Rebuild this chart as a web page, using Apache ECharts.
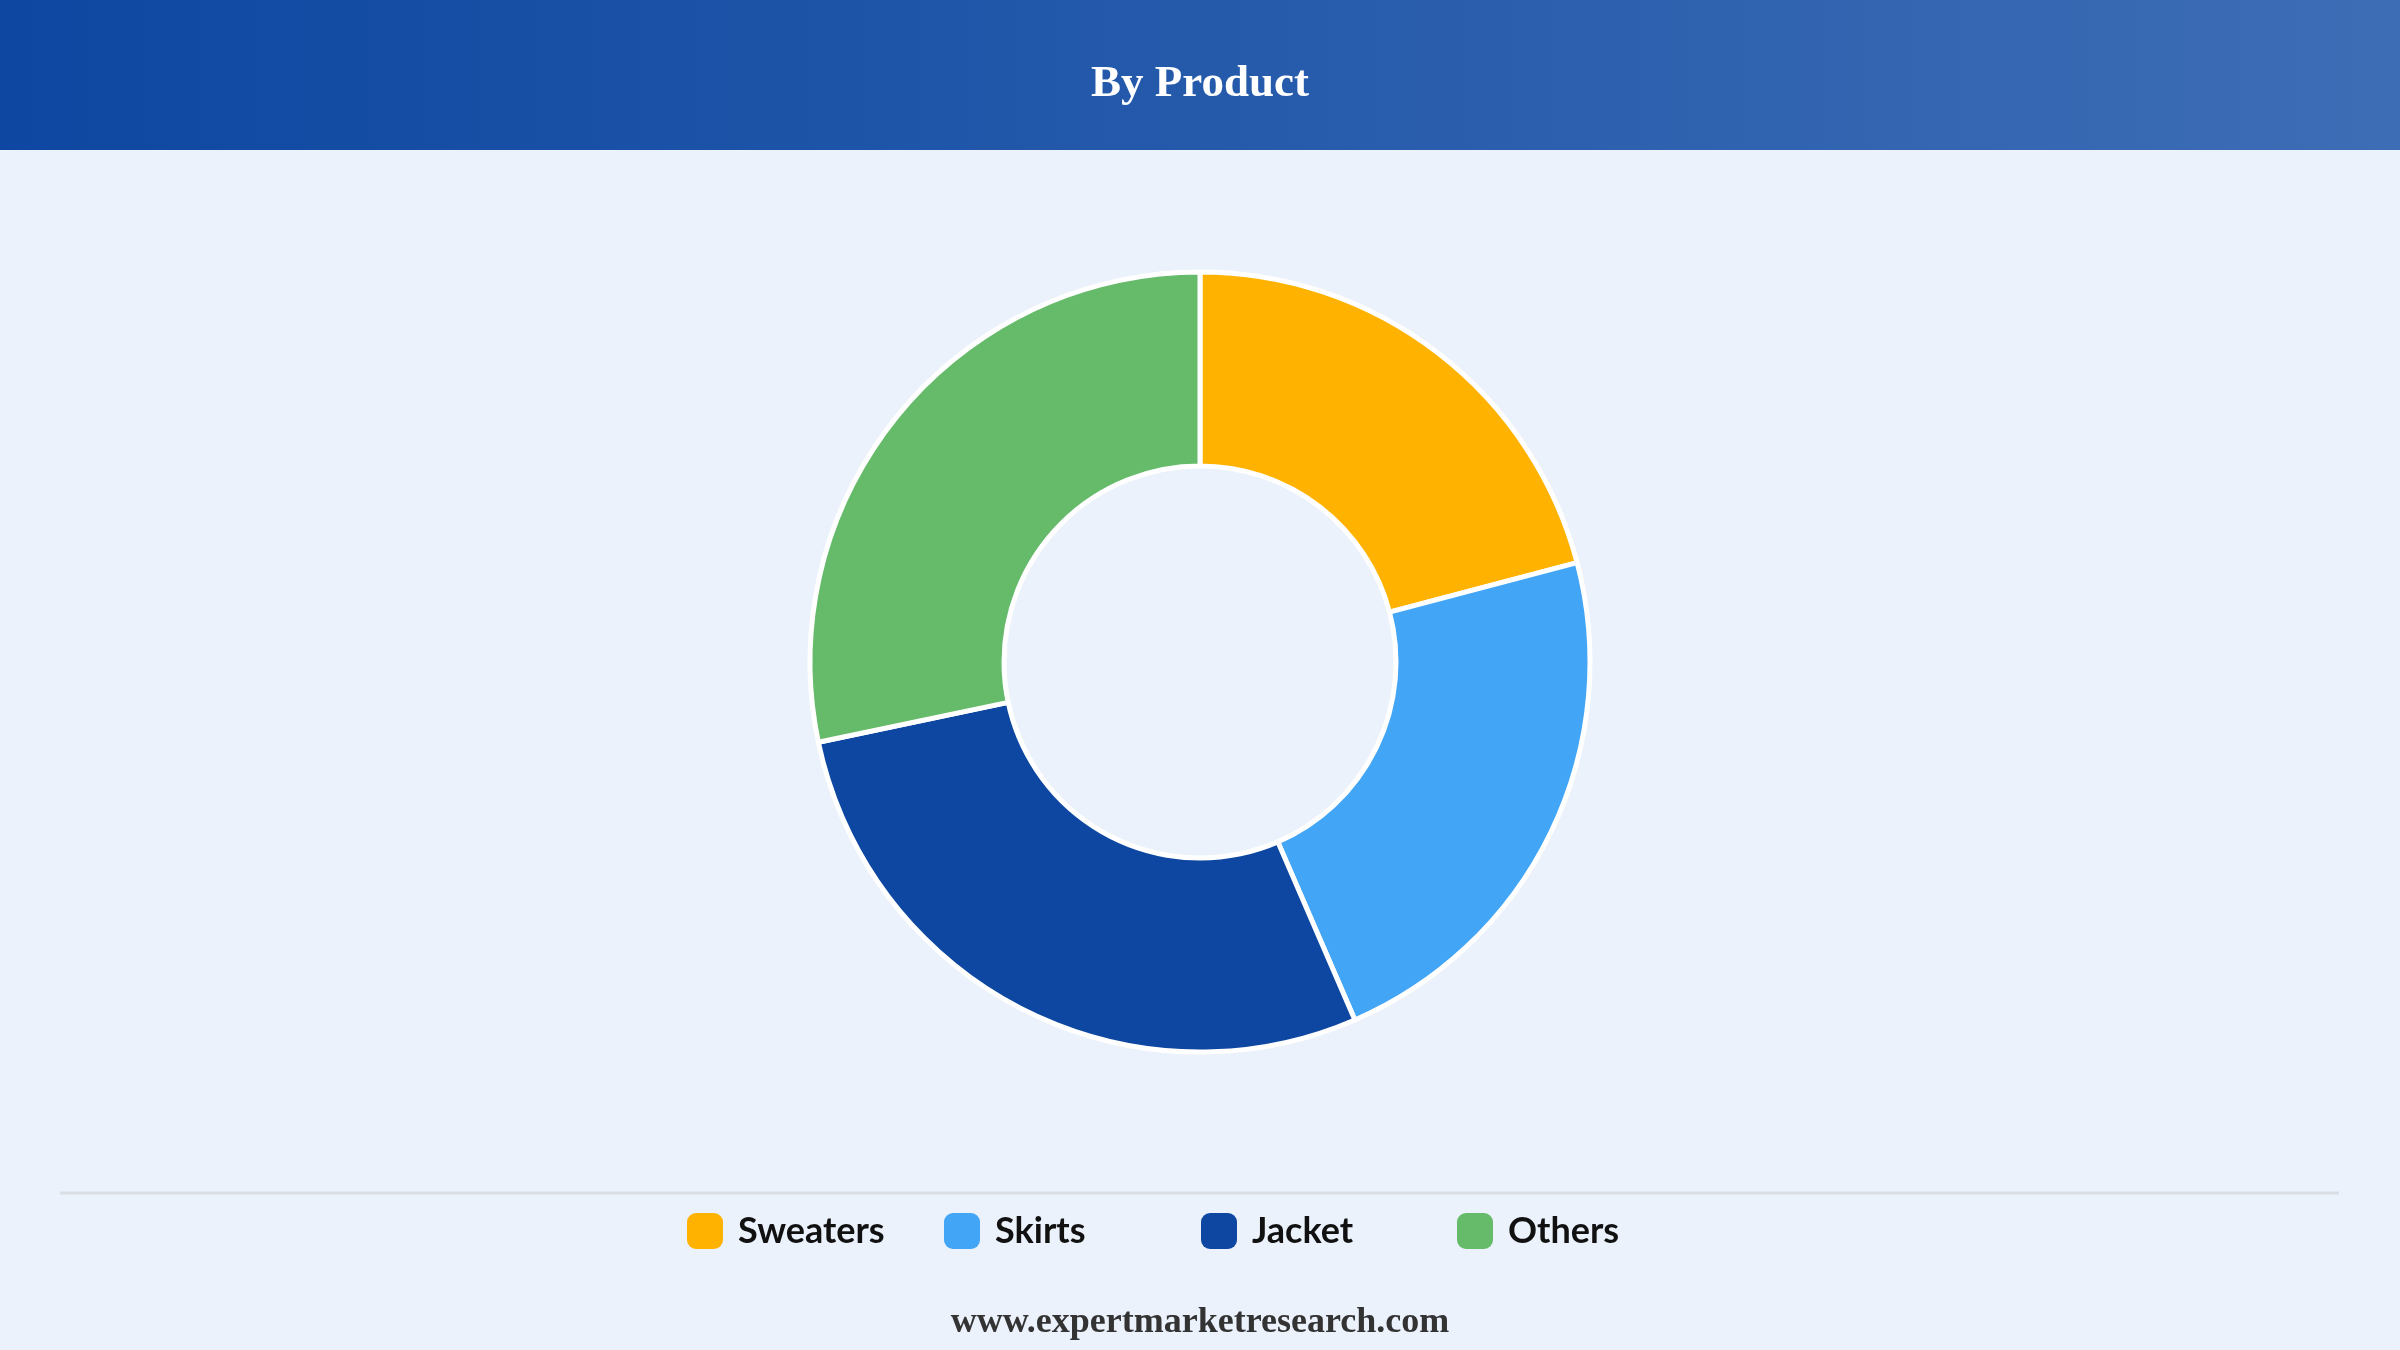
<!DOCTYPE html>
<html>
<head>
<meta charset="utf-8">
<title>By Product</title>
<script src="https://cdn.jsdelivr.net/npm/echarts@6/dist/echarts.min.js"></script>
<style>
  html, body { margin: 0; padding: 0; background: #EBF2FC; }
  #main { width: 2400px; height: 1350px; }
</style>
</head>
<body>
<div id="main"></div>
<script>
// chart data
var categories = ['Sweaters', 'Skirts', 'Jacket', 'Others'];
var shares = [20.9, 22.6, 28.2, 28.3];
var colors = ['#FFB300', '#42A5F5', '#0D47A1', '#66BB6A'];

var myChart = echarts.init(document.getElementById('main'));

// one legend per item so they sit on an even grid like the original
var legendLeft = [682, 939, 1196, 1452];
var legends = categories.map(function (name, i) {
  return {
    data: [name],
    left: legendLeft[i],
    top: 1208,
    icon: 'roundRect',
    itemWidth: 36,
    itemHeight: 36,
    selectedMode: false,
    itemStyle: { borderWidth: 0 },
    textStyle: {
      color: '#111111',
      fontFamily: 'Lato',
      fontWeight: 'bold',
      fontSize: 36,
      padding: [0, 0, 0, 10]
    }
  };
});

var option = {
  backgroundColor: '#EBF2FC',
  color: colors,
  title: [
    {
      text: 'By Product',
      left: 'center',
      top: 57,
      textStyle: {
        color: '#ffffff',
        fontFamily: 'Liberation Serif',
        fontWeight: 'bold',
        fontSize: 45
      }
    },
    {
      text: 'www.expertmarketresearch.com',
      left: 'center',
      top: 1300,
      textStyle: {
        color: '#333333',
        fontFamily: 'Liberation Serif',
        fontWeight: 'bold',
        fontSize: 36
      }
    }
  ],
  graphic: [
    {
      type: 'rect',
      z: -1,
      shape: { x: 0, y: 0, width: 2400, height: 150 },
      style: {
        fill: new echarts.graphic.LinearGradient(0, 0, 1, 0, [
          { offset: 0, color: '#0D47A1' },
          { offset: 1, color: '#3D6DB5' }
        ])
      }
    },
    {
      type: 'line',
      shape: { x1: 60, y1: 1193, x2: 2339, y2: 1193 },
      style: { stroke: '#DADDE2', lineWidth: 3 }
    }
  ],
  legend: legends,
  series: [
    {
      type: 'pie',
      center: [1200, 662],
      radius: [196, 390],
      startAngle: 90,
      clockwise: true,
      silent: true,
      label: { show: false },
      labelLine: { show: false },
      itemStyle: { borderColor: '#ffffff', borderWidth: 5 },
      data: categories.map(function (name, i) {
        return { name: name, value: shares[i] };
      })
    }
  ]
};

myChart.setOption(option);
</script>
</body>
</html>
